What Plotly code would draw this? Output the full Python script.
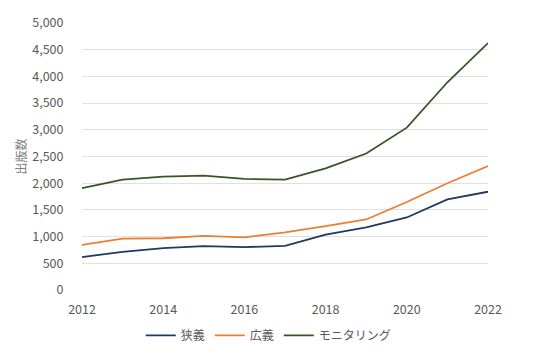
import plotly.graph_objects as go

years = list(range(2012, 2023))
narrow = [617, 716, 784, 821, 803, 827, 1037, 1173, 1358, 1698, 1840]
broad = [845, 963, 969, 1012, 987, 1080, 1198, 1321, 1648, 1999, 2320]
monitoring = [1907, 2068, 2124, 2142, 2080, 2068, 2278, 2555, 3040, 3890, 4624]

names = ["狭義", "広義", "モニタリング"]
colors = ["#203864", "#ED7D31", "#375623"]

font = "Noto Sans CJK JP, Noto Sans, sans-serif"
fig = go.Figure()
for name, vals, c in zip(names, [narrow, broad, monitoring], colors):
    fig.add_trace(go.Scatter(x=years, y=vals, name=name, mode="lines",
                             line=dict(color=c, width=1.8)))

# page body has an 8px default margin, so the figure is offset by 8px
fig.update_layout(
    width=528, height=354,
    margin=dict(l=74, r=48, t=15, b=69),
    plot_bgcolor="white", paper_bgcolor="white",
    font=dict(family=font, size=12.5, color="#595959"),
    legend=dict(orientation="h", x=0.46, xanchor="center", y=-0.17, yanchor="middle",
                font=dict(size=12, color="#595959"), itemwidth=30),
    showlegend=True,
)
fig.update_xaxes(range=[2012, 2022], tickvals=list(range(2012, 2023, 2)),
                 showgrid=False, showline=False, zeroline=False,
                 ticks="outside", ticklen=8, tickcolor="rgba(0,0,0,0)", automargin=False,
                 tickfont=dict(size=12.5, color="#595959"))
fig.update_yaxes(range=[0, 5000], dtick=500, tickformat=",",
                 showgrid=True, gridcolor="#E0E0E0", gridwidth=1,
                 zeroline=False, showline=False,
                 ticks="outside", ticklen=15, tickcolor="rgba(0,0,0,0)", automargin=False,
                 title=dict(text="出版数", font=dict(size=12, color="#7F7F7F"), standoff=3),
                 tickfont=dict(size=12.5, color="#595959"))
fig.write_html("out.html")
